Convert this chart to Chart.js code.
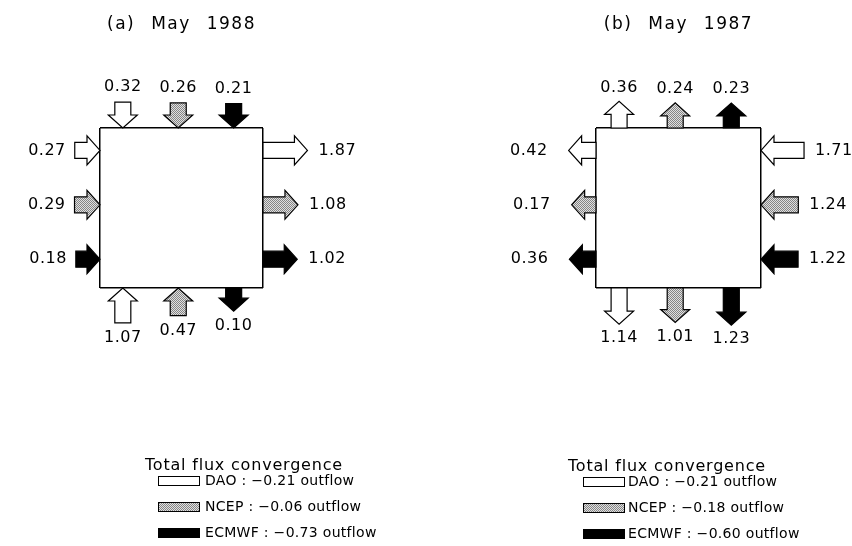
<!DOCTYPE html>
<html>
<head>
<meta charset="utf-8">
<script src="https://cdn.jsdelivr.net/npm/chart.js@4.4.1/dist/chart.umd.min.js"></script>
<style>
    html, body { margin: 0; padding: 0; background: #fff; }
    #wrap { position: relative; width: 852px; height: 546px; }
    .panel { position: absolute; top: 0; width: 426px; height: 546px; }
</style>
</head>
<body>
<div id="wrap">
    <div class="panel" style="left:0"><canvas id="chartA" width="426" height="546"></canvas></div>
    <div class="panel" style="left:426px"><canvas id="chartB" width="426" height="546"></canvas></div>
</div>
<script>
// Moisture flux across each face of the box (positive = into the box, negative = out)
const models = ['DAO', 'NCEP', 'ECMWF'];

const may1988North = [0.32, 0.26, 0.21];
const may1988West = [0.27, 0.29, 0.18];
const may1988East = [-1.87, -1.08, -1.02];
const may1988South = [1.07, 0.47, -0.10];

const may1987North = [-0.36, -0.24, -0.23];
const may1987West = [-0.42, -0.17, -0.36];
const may1987East = [1.71, 1.24, 1.22];
const may1987South = [-1.14, -1.01, -1.23];

// where the three arrows sit along each face (box units, 0..1)
const slots = [0.14, 0.48, 0.82];

// arrow length in box units = base + k * |flux|
const ARROW_BASE = 0.135;
const ARROW_K = 0.0736;

const FONT = '"DejaVu Sans", sans-serif';

// stippled grey fill for NCEP
function stipple() {
    const c = document.createElement('canvas');
    c.width = 2; c.height = 2;
    const g = c.getContext('2d');
    g.fillStyle = '#e0e0e0'; g.fillRect(0, 0, 2, 2);
    g.fillStyle = '#858585'; g.fillRect(0, 0, 1, 1); g.fillRect(1, 1, 1, 1);
    return g.createPattern(c, 'repeat');
}

const arrowPlugin = {
    id: 'fluxArrows',
    beforeDraw(chart) {
        // spacing for the panel title
        chart.ctx.letterSpacing = '1.5px';
        chart.ctx.wordSpacing = '9px';
    },
    afterDatasetsDraw(chart) {
        const ctx = chart.ctx;
        const xs = chart.scales.x;
        const opts = chart.options.plugins.fluxArrows;
        const unitPx = xs.getPixelForValue(1) - xs.getPixelForValue(0);
        const shaft = 16, head = 29, headLen = 13;

        ctx.save();
        ctx.letterSpacing = '0.5px';
        ctx.wordSpacing = '0px';
        chart.data.datasets.forEach((ds, di) => {
            const meta = chart.getDatasetMeta(di);
            ds.data.forEach((pt, i) => {
                const el = meta.data[i];
                const ax = el.x, ay = el.y;
                const out = { N: [0, -1], S: [0, 1], W: [-1, 0], E: [1, 0] }[pt.side];
                const len = (ARROW_BASE + ARROW_K * Math.abs(pt.v)) * unitPx;
                const endX = ax + out[0] * len, endY = ay + out[1] * len;
                let tail, tip, d;
                if (pt.v > 0) { tail = [endX, endY]; tip = [ax, ay]; d = [-out[0], -out[1]]; }
                else { tail = [ax, ay]; tip = [endX, endY]; d = out; }
                const n = [-d[1], d[0]];
                const hx = tip[0] - d[0] * headLen, hy = tip[1] - d[1] * headLen;
                ctx.beginPath();
                ctx.moveTo(tail[0] + n[0] * shaft / 2, tail[1] + n[1] * shaft / 2);
                ctx.lineTo(hx + n[0] * shaft / 2, hy + n[1] * shaft / 2);
                ctx.lineTo(hx + n[0] * head / 2, hy + n[1] * head / 2);
                ctx.lineTo(tip[0], tip[1]);
                ctx.lineTo(hx - n[0] * head / 2, hy - n[1] * head / 2);
                ctx.lineTo(hx - n[0] * shaft / 2, hy - n[1] * shaft / 2);
                ctx.lineTo(tail[0] - n[0] * shaft / 2, tail[1] - n[1] * shaft / 2);
                ctx.closePath();
                ctx.fillStyle = ds.backgroundColor;
                ctx.fill();
                ctx.lineWidth = 1.2;
                ctx.strokeStyle = '#000';
                ctx.stroke();

                // value label beyond the outer end of the arrow
                ctx.fillStyle = '#000';
                ctx.font = '16px ' + FONT;
                ctx.textBaseline = 'middle';
                const txt = Math.abs(pt.v).toFixed(2);
                if (pt.side === 'N' || pt.side === 'S') {
                    ctx.textAlign = 'center';
                    ctx.fillText(txt, endX, endY + out[1] * opts.gapV);
                } else if (pt.side === 'W') {
                    ctx.textAlign = 'right';
                    ctx.fillText(txt, endX - opts.gapW, endY);
                } else {
                    ctx.textAlign = 'left';
                    ctx.fillText(txt, endX + opts.gapE, endY);
                }
            });
        });

        // legend: total convergence per model
        const lg = opts.legend;
        ctx.letterSpacing = '0.8px';
        ctx.font = '16px ' + FONT;
        ctx.textAlign = 'left';
        ctx.textBaseline = 'middle';
        ctx.fillStyle = '#000';
        ctx.fillText('Total flux convergence', lg.x, lg.y);
        ctx.letterSpacing = '0.3px';
        chart.data.datasets.forEach((ds, di) => {
            const y = lg.y + lg.first + di * lg.row;
            const total = ds.data.reduce((s, p) => s + p.v, 0);
            ctx.fillStyle = ds.backgroundColor;
            ctx.fillRect(lg.boxX, y - 5, 42, 10);
            ctx.lineWidth = 1;
            ctx.strokeStyle = '#000';
            ctx.strokeRect(lg.boxX + 0.5, y - 4.5, 41, 9);
            ctx.fillStyle = '#000';
            ctx.font = '14px ' + FONT;
            const sign = total < 0 ? '\u2212' : '';
            const word = total < 0 ? 'outflow' : 'inflow';
            ctx.fillText(`${ds.label} : ${sign}${Math.abs(total).toFixed(2)} ${word}`, lg.textX, y);
        });
        ctx.restore();
    }
};

function makePanel(id, title, north, west, east, south, box, gaps) {
    const fills = ['#ffffff', stipple(), '#000000'];
    const datasets = models.map((m, i) => ({
        label: m,
        data: [
            { x: slots[i], y: 1, side: 'N', v: north[i] },
            { x: 0, y: 1 - slots[i], side: 'W', v: west[i] },
            { x: 1, y: 1 - slots[i], side: 'E', v: east[i] },
            { x: slots[i], y: 0, side: 'S', v: south[i] },
        ],
        backgroundColor: fills[i],
        pointRadius: 0,
        showLine: false,
    }));

    const axis = {
        type: 'linear', min: 0, max: 1,
        ticks: { display: false, stepSize: 1 },
        grid: { color: '#000', lineWidth: 1.5, drawTicks: false },
        border: { display: false },
    };

    return new Chart(document.getElementById(id), {
        type: 'scatter',
        data: { datasets },
        options: {
            responsive: false,
            animation: false,
            events: [],
            clip: false,
            layout: { padding: { left: box.left, right: 426 - box.right, top: 0, bottom: 546 - box.bottom } },
            scales: { x: { ...axis }, y: { ...axis } },
            plugins: {
                legend: { display: false },
                tooltip: { enabled: false },
                title: {
                    display: true,
                    text: title,
                    fullSize: false,
                    color: '#000',
                    font: { family: FONT, size: 17, weight: 'normal', lineHeight: 1.2 },
                    padding: { top: 14, bottom: box.top - 14 - 20.4 },
                },
                fluxArrows: gaps,
            },
        },
        plugins: [arrowPlugin],
    });
}

makePanel('chartA', '(a) May 1988',
    may1988North, may1988West, may1988East, may1988South,
    { left: 100, right: 263, top: 128, bottom: 288 },
    { gapV: 15, gapW: 9, gapE: 11, legend: { x: 145, y: 466, first: 15, row: 26, boxX: 158, textX: 205 } });

makePanel('chartB', '(b) May 1987',
    may1987North, may1987West, may1987East, may1987South,
    { left: 170, right: 335, top: 128, bottom: 288 },
    { gapV: 14, gapW: 21, gapE: 11, legend: { x: 142, y: 467, first: 15, row: 26, boxX: 157, textX: 202 } });
</script>
</body>
</html>
